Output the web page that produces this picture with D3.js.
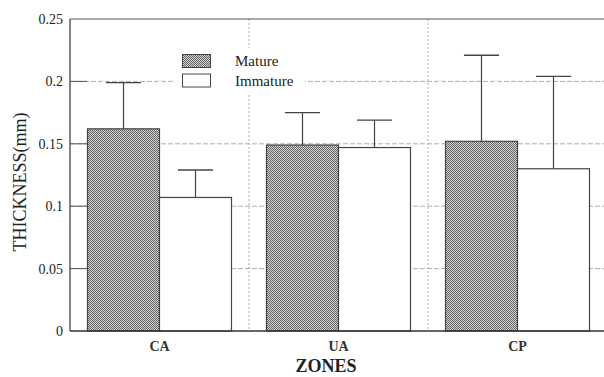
<!DOCTYPE html>
<html>
<head>
<meta charset="utf-8">
<script src="https://cdn.jsdelivr.net/npm/d3@7"></script>
<style>
  body { margin: 0; background: #fff; }
  svg { display: block; font-family: "Liberation Serif", "DejaVu Serif", serif; }
</style>
</head>
<body>
<script>
// donnees
const zones = ["CA", "UA", "CP"]
const series = ["Mature", "Immature"]
const mature = [0.162, 0.149, 0.152]
const matureErr = [0.199, 0.175, 0.221]
const immature = [0.107, 0.147, 0.130]
const immatureErr = [0.129, 0.169, 0.204]
const yTicks = [0, 0.05, 0.1, 0.15, 0.2, 0.25]

const width = 604, height = 377
const gauche = 70, haut = 19, bas = 331, droite = 607

let svg = d3.select("body").append("svg")
    .attr("width", width)
    .attr("height", height)

// motif quadrille pour Mature
let defs = svg.append("defs")
let pat = defs.append("pattern")
    .attr("id", "checker")
    .attr("width", 2).attr("height", 2)
    .attr("patternUnits", "userSpaceOnUse")
pat.append("rect").attr("width", 2).attr("height", 2).attr("fill", "#d2d2d2")
pat.append("rect").attr("width", 1).attr("height", 1).attr("fill", "#666")
pat.append("rect").attr("x", 1).attr("y", 1).attr("width", 1).attr("height", 1).attr("fill", "#666")

// echelles
let x = d3.scaleBand().domain(zones).range([gauche, droite])
let xs = d3.scaleBand().domain(series).range([0, x.bandwidth()]).paddingOuter(0.243)
let y = d3.scaleLinear().domain([0, 0.25]).range([bas, haut])

// grille horizontale
svg.append("g").selectAll("line")
    .data(yTicks.slice(1, -1))
    .enter().append("line")
    .attr("x1", gauche).attr("x2", width)
    .attr("y1", d => y(d)).attr("y2", d => y(d))
    .attr("stroke", "#999")
    .attr("stroke-width", 0.8)
    .attr("stroke-dasharray", "5,2")

// grille verticale entre les zones
svg.append("g").selectAll("line")
    .data(zones.slice(1))
    .enter().append("line")
    .attr("x1", d => x(d)).attr("x2", d => x(d))
    .attr("y1", haut).attr("y2", bas)
    .attr("stroke", "#999")
    .attr("stroke-width", 0.8)
    .attr("stroke-dasharray", "2,2")

// petits traits de graduation
svg.append("g").selectAll("line")
    .data(yTicks.slice(1, -1))
    .enter().append("line")
    .attr("x1", gauche).attr("x2", gauche + 17)
    .attr("y1", d => y(d)).attr("y2", d => y(d))
    .attr("stroke", "#555")
    .attr("stroke-width", 1)

// legende (fond blanc)
let legende = svg.append("g")
legende.append("rect")
    .attr("x", 175).attr("y", 48).attr("width", 130).attr("height", 47)
    .attr("fill", "#fff")
series.forEach((s, i) => {
    legende.append("rect")
        .attr("x", 182.5).attr("y", 54.5 + i * 19.5)
        .attr("width", 28).attr("height", 13)
        .attr("fill", i == 0 ? "url(#checker)" : "#fff")
        .attr("stroke", "#444")
        .attr("stroke-width", 1)
    legende.append("text")
        .attr("x", 235).attr("y", 66 + i * 19.5)
        .attr("font-size", 15)
        .attr("fill", "#222")
        .text(s)
})

// barres et barres d'erreur
let donnees = []
zones.forEach((z, i) => {
    donnees.push({ zone: z, serie: "Mature", val: mature[i], err: matureErr[i] })
    donnees.push({ zone: z, serie: "Immature", val: immature[i], err: immatureErr[i] })
})

let barres = svg.append("g")
donnees.forEach(d => {
    let bx = x(d.zone) + xs(d.serie)
    let cx = bx + xs.bandwidth() / 2
    barres.append("line")
        .attr("x1", cx).attr("x2", cx)
        .attr("y1", y(d.val)).attr("y2", y(d.err))
        .attr("stroke", "#444").attr("stroke-width", 1.2)
    barres.append("line")
        .attr("x1", cx - 17.5).attr("x2", cx + 17.5)
        .attr("y1", y(d.err)).attr("y2", y(d.err))
        .attr("stroke", "#444").attr("stroke-width", 1.4)
    barres.append("rect")
        .attr("x", bx).attr("y", y(d.val))
        .attr("width", xs.bandwidth())
        .attr("height", bas - y(d.val))
        .attr("fill", d.serie == "Mature" ? "url(#checker)" : "#fff")
        .attr("stroke", "#444")
        .attr("stroke-width", 1.2)
})

// cadre
svg.append("line").attr("x1", gauche).attr("x2", gauche).attr("y1", haut).attr("y2", bas)
    .attr("stroke", "#444").attr("stroke-width", 1.3)
svg.append("line").attr("x1", gauche).attr("x2", width).attr("y1", haut).attr("y2", haut)
    .attr("stroke", "#555").attr("stroke-width", 1.2)
svg.append("line").attr("x1", gauche).attr("x2", width).attr("y1", bas).attr("y2", bas)
    .attr("stroke", "#333").attr("stroke-width", 1.6)

// etiquettes axe y
svg.append("g").selectAll("text")
    .data(yTicks)
    .enter().append("text")
    .attr("x", 63)
    .attr("y", d => y(d) + 5)
    .attr("text-anchor", "end")
    .attr("font-size", 14)
    .attr("fill", "#222")
    .text(d => d)

// etiquettes zones
svg.append("g").selectAll("text")
    .data(zones)
    .enter().append("text")
    .attr("x", d => x(d) + x.bandwidth() / 2)
    .attr("y", 351)
    .attr("text-anchor", "middle")
    .attr("font-size", 14)
    .attr("font-weight", "bold")
    .attr("fill", "#333")
    .text(d => d)

// titres
svg.append("text")
    .attr("x", 326).attr("y", 372)
    .attr("text-anchor", "middle")
    .attr("font-size", 18)
    .attr("font-weight", "bold")
    .attr("fill", "#222")
    .text("ZONES")

svg.append("text")
    .attr("transform", "translate(26,182) rotate(-90)")
    .attr("text-anchor", "middle")
    .attr("font-size", 18)
    .attr("fill", "#222")
    .text("THICKNESS(mm)")
</script>
</body>
</html>
